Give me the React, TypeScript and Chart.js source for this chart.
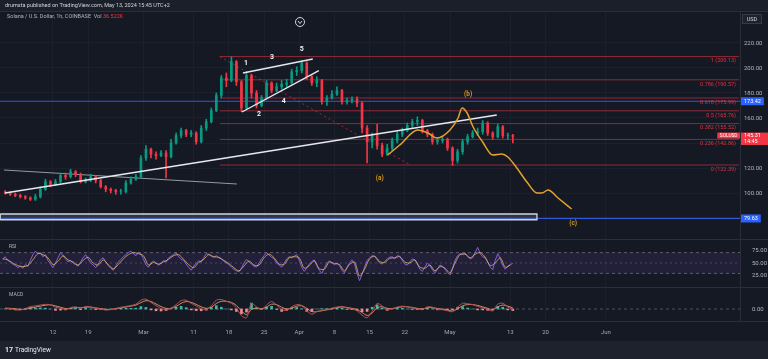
import React, { useEffect, useRef } from 'react';
import { Chart, registerables } from 'chart.js';

Chart.register(...registerables);

const FONT = 'Roboto, "Noto Sans", "DejaVu Sans", sans-serif';

// x axis = days since 2024-02-01 00:00 (UTC+2)
const timeTickDays = [11, 18, 29, 39, 46, 53, 60, 67, 74, 81, 90, 102, 109, 121];
const timeTickLabels = ['12', '19', 'Mar', '11', '18', '25', 'Apr', '8', '15', '22', 'May', '13', '20', 'Jun'];
const viewStartDay = 0.46;
const viewEndDay = 147.7;

// SOL/USD candles (one per day), first candle = day 1
const candleFirstDay = 1;
const opens = [
  101, 100, 99, 98, 97, 96, 95, 97, 103, 109,
  107, 109, 114, 113, 117, 115, 109, 110, 113, 110,
  105, 103, 102, 101, 101, 108, 111, 113, 128, 135,
  131, 130, 132, 129, 140, 146, 150, 147, 148, 141,
  152, 157, 166, 178, 192, 190, 205, 189, 168, 194,
  180, 170, 176, 188, 182, 185, 187, 188, 197, 198,
  204, 193, 188, 190, 173, 176, 179, 182, 173, 174,
  175, 172, 152, 141, 146, 138, 131, 136, 142, 147,
  150, 154, 157, 158, 150, 147, 141, 142, 143, 136,
  126, 133, 141, 145, 148, 149, 156, 148, 145, 153,
  146, 146,
];
const highs = [
  102, 101, 100, 99, 98, 97, 99, 105, 111, 110,
  111, 116, 116, 119, 118, 116, 112, 115, 114, 111,
  106, 104, 103, 103, 110, 113, 115, 130, 138, 136,
  133, 134, 134, 143, 148, 152, 151, 150, 149, 154,
  159, 168, 180, 194, 196, 209, 206, 190, 197, 195,
  182, 178, 190, 189, 188, 190, 191, 199, 201, 206,
  205, 194, 193, 191, 178, 182, 185, 183, 176, 177,
  177, 173, 154, 148, 155, 140, 139, 144, 149, 152,
  156, 159, 161, 159, 151, 148, 144, 145, 144, 137,
  135, 143, 147, 150, 152, 158, 157, 149, 155, 154,
  148, 147,
];
const lows = [
  99, 98, 97, 96, 95, 94, 94, 96, 102, 105,
  106, 108, 111, 112, 113, 108, 108, 109, 108, 104,
  101, 100, 99, 99, 100, 107, 110, 112, 126, 128,
  127, 129, 112, 128, 139, 144, 145, 145, 139, 140,
  150, 156, 165, 176, 185, 189, 186, 165, 167, 176,
  168, 169, 175, 180, 181, 183, 185, 187, 194, 196,
  191, 186, 185, 171, 170, 175, 178, 171, 171, 172,
  169, 148, 124, 136, 135, 129, 130, 134, 140, 145,
  149, 152, 154, 148, 145, 139, 139, 140, 134, 122,
  124, 131, 139, 144, 146, 147, 146, 143, 144, 144,
  143, 140,
];
const closes = [
  100, 99, 98, 97, 96, 95, 97, 103, 109, 107,
  109, 114, 113, 117, 115, 109, 110, 113, 110, 105,
  103, 102, 101, 101, 108, 111, 113, 128, 135, 131,
  130, 132, 129, 140, 146, 150, 147, 148, 141, 152,
  157, 166, 178, 192, 190, 205, 189, 168, 194, 180,
  170, 176, 188, 182, 185, 187, 188, 197, 198, 204,
  193, 188, 190, 173, 176, 179, 182, 173, 174, 175,
  172, 152, 141, 146, 138, 131, 136, 142, 147, 150,
  154, 157, 158, 150, 147, 141, 142, 143, 136, 126,
  133, 141, 145, 148, 149, 156, 148, 145, 153, 146,
  146, 145.31,
];

const priceTicks = [80, 100, 120, 140, 160, 180, 200, 220];

// Fibonacci retracement
const fibRatios = ['1', '0.786', '0.618', '0.5', '0.382', '0.236', '0'];
const fibPrices = [209.13, 190.57, 175.99, 165.76, 155.52, 142.86, 122.39];
const fibStartDay = 44.2;
const fibEndDay = 147.5;
const fibDiagDays = [44.2, 82.1];
const fibDiagPrices = [209.13, 122.39];

// horizontal levels (blue)
const horizLevels = [173.42, 79.63];
const lastPrice = 145.31;
const countdown = '14:45';

// drawings
const trendDays = [1.45, 99.3];
const trendPrices = [100.0, 162.4];
const greyLineDays = [1.25, 47.6];
const greyLinePrices = [118.4, 107.2];
const wedgeUpperDays = [48.8, 62.7];
const wedgeUpperPrices = [196.0, 207.2];
const wedgeLowerDays = [48.6, 63.9];
const wedgeLowerPrices = [164.8, 197.9];
const boxDays = [0.5, 107.3];
const boxPrices = [83.2, 78.6];
const projDays = [77.6, 80.0, 83.6, 85.6, 87.4, 90.0, 91.6, 92.4, 93.4, 94.6, 96.5, 98.5, 100.3, 101.5, 103.3, 105.3, 107.3, 108.3, 109.5, 111.5, 114.2];
const projPrices = [130.4, 138.4, 150.4, 148, 144, 150.4, 160, 168, 164, 152.8, 140.8, 130.4, 131.2, 128.8, 120, 108.8, 100, 100, 102.4, 96, 87.2];

const waveTexts = ['1', '2', '3', '4', '5'];
const waveDays = [49.4, 52.0, 54.6, 56.9, 60.5];
const wavePrices = [203.6, 163.2, 208.8, 173.6, 215.2];
const abcTexts = ['(a)', '(b)', '(c)'];
const abcDays = [76.0, 93.6, 114.5];
const abcPrices = [112, 179.2, 76];

// RSI (two readings per day from day 1)
const rsiFirstDay = 1;
const rsiStep = 0.5;
const rsiValues = [
  58, 62, 55, 52, 48, 45, 41, 44, 40, 47,
  44, 55, 66, 73, 68, 70, 62, 66, 55, 48,
  41, 50, 60, 70, 64, 58, 52, 55, 50, 47,
  44, 52, 60, 66, 58, 50, 46, 41, 48, 57,
  60, 52, 45, 40, 36, 44, 52, 57, 62, 66,
  70, 73, 68, 64, 71, 67, 58, 46, 42, 50,
  54, 50, 46, 49, 55, 52, 60, 63, 66, 70,
  62, 57, 55, 48, 42, 36, 44, 50, 54, 52,
  60, 68, 67, 63, 61, 64, 60, 58, 53, 50,
  47, 42, 38, 35, 33, 40, 50, 57, 52, 48,
  44, 42, 50, 58, 64, 70, 65, 61, 58, 50,
  46, 42, 50, 58, 62, 60, 63, 66, 55, 42,
  34, 40, 48, 53, 56, 45, 36, 30, 40, 50,
  54, 50, 47, 50, 45, 36, 31, 42, 50, 56,
  48, 30, 16, 28, 42, 55, 60, 64, 63, 56,
  50, 48, 53, 58, 61, 62, 58, 64, 63, 55,
  48, 46, 52, 58, 56, 48, 38, 34, 42, 50,
  45, 37, 31, 38, 46, 44, 38, 32, 27, 40,
  55, 64, 68, 66, 69, 63, 58, 60, 70, 80,
  68, 62, 60, 52, 42, 37, 55, 68, 58, 45,
  38, 44, 47, 49,
];
// RSI-based MA (one per day from day 1)
const rsiMaValues = [
  58, 56, 50, 45, 43, 45, 56, 68, 66, 60,
  47, 53, 64, 56, 52, 46, 55, 61, 50, 46,
  56, 47, 39, 47, 58, 66, 70, 68, 64, 46,
  51, 48, 52, 57, 64, 66, 57, 47, 41, 51,
  57, 66, 62, 61, 55, 49, 41, 35, 44, 54,
  46, 46, 60, 67, 60, 48, 47, 60, 62, 60,
  40, 45, 54, 39, 38, 52, 49, 47, 35, 47,
  52, 25, 38, 58, 63, 53, 51, 59, 60, 62,
  52, 50, 56, 42, 40, 46, 35, 43, 40, 31,
  50, 66, 67, 60, 67, 70, 61, 45, 50, 60,
  42, 46,
];
const rsiTicks = [25, 50, 75];
const rsiBand = [70, 50, 30];

// MACD (one per day from day 1)
const macdFirstDay = 1;
const macdValues = [
  0.4, 0.2, -0.3, -0.5, 0.2, 1.1, 1.4, 1.8, 2.1, 1.9,
  0.8, 0.3, -0.2, 0.6, 1.0, 0.3, 1.2, 0.9, 0.2, 0.0,
  -0.5, -0.2, 0.3, 0.8, 1.2, 1.6, 2.2, 4.0, 4.5, 3.0,
  1.5, 0.2, -0.4, 0.4, 2.0, 3.8, 4.0, 2.6, 1.4, 0.2,
  -0.2, 1.5, 4.0, 4.3, 3.5, 2.6, 0.5, -3.0, -4.0, 2.5,
  1.0, -0.2, 1.8, 3.4, 1.8, -0.3, -0.6, 1.0, 2.0, 1.6,
  -0.8, -2.4, -1.2, -0.6, -0.2, 0.4, 0.9, 1.2, 0.5, 0.0,
  -0.8, -2.8, -4.0, -1.0, 2.5, 1.4, -0.3, 0.2, 0.9, 1.3,
  1.0, 0.5, 0.1, -0.3, 1.0, 0.8, -0.2, -0.3, -0.8, -1.2,
  0.8, 2.6, 2.4, 2.0, 1.2, 0.6, -0.3, -0.8, 2.2, 2.6,
  0.9, -0.2,
];
const signalValues = [
  0.3, 0.3, 0.1, -0.2, -0.1, 0.4, 0.9, 1.3, 1.7, 1.9,
  1.4, 0.8, 0.2, 0.3, 0.7, 0.6, 0.8, 0.9, 0.5, 0.2,
  -0.2, -0.2, 0.1, 0.5, 0.9, 1.3, 1.8, 2.9, 3.8, 3.4,
  2.3, 1.1, 0.3, 0.3, 1.2, 2.6, 3.4, 3.0, 2.1, 1.0,
  0.3, 0.8, 2.5, 3.5, 3.5, 3.0, 1.6, -0.8, -2.6, -0.2,
  0.5, 0.1, 0.9, 2.2, 2.0, 0.8, 0.0, 0.4, 1.3, 1.5,
  0.3, -1.2, -1.2, -0.8, -0.4, 0.1, 0.6, 0.9, 0.7, 0.3,
  -0.3, -1.6, -2.9, -1.8, 0.6, 1.0, 0.3, 0.2, 0.6, 1.0,
  1.0, 0.7, 0.3, 0.0, 0.5, 0.7, 0.2, -0.1, -0.5, -0.9,
  0.0, 1.5, 2.0, 2.0, 1.6, 1.0, 0.3, -0.3, 1.0, 1.8,
  1.3, 0.5,
];
const histValues = [
  0.1, -0.1, -0.4, -0.3, 0.3, 0.7, 0.5, 0.5, 0.4, 0.0,
  -0.6, -0.5, -0.4, 0.3, 0.3, -0.3, 0.4, 0.0, -0.3, -0.2,
  -0.3, 0.0, 0.2, 0.3, 0.3, 0.3, 0.4, 1.1, 0.7, -0.4,
  -0.8, -0.9, -0.7, 0.1, 0.8, 1.2, 0.6, -0.4, -0.7, -0.8,
  -0.5, 0.7, 1.5, 0.8, 0.0, -0.4, -1.1, -2.2, -1.4, 2.7,
  0.5, -0.3, 0.9, 1.2, -0.2, -1.1, -0.6, 0.6, 0.7, 0.1,
  -1.1, -1.2, 0.0, 0.2, 0.2, 0.3, 0.3, 0.3, -0.2, -0.3,
  -0.5, -1.2, -1.1, 0.8, 1.9, 0.4, -0.6, 0.0, 0.3, 0.3,
  0.0, -0.2, -0.2, -0.3, 0.5, 0.1, -0.4, -0.2, -0.3, -0.3,
  0.8, 1.1, 0.4, 0.0, -0.4, -0.4, -0.6, -0.5, 1.2, 0.8,
  -0.4, -0.7,
];

const UP = '#089981';
const DOWN = '#f23645';

function pts(days: number[], vals: number[]) {
  return days.map((d, i) => ({ x: d, y: vals[i] }));
}
function lineDs(data: any[], color: string, width: number, axis: string, order: number, extra: any = {}) {
  return {
    type: 'line', data, yAxisID: axis, borderColor: color, borderWidth: width,
    pointRadius: 0, pointHoverRadius: 0, fill: false, tension: 0, order, ...extra,
  };
}

export default function App() {
  const ref = useRef<HTMLCanvasElement>(null);

  useEffect(() => {
    document.body.style.margin = '0';
    document.body.style.background = '#151924';
    const canvas = ref.current;
    if (!canvas) return;

    const candleColors = closes.map((c, i) => (c >= opens[i] ? UP : DOWN));
    const datasets: any[] = [];

    fibPrices.forEach((p) => {
      datasets.push(lineDs(pts([fibStartDay, fibEndDay], [p, p]), 'rgba(242,54,69,0.55)', 1, 'y', 20));
    });
    horizLevels.forEach((p) => {
      datasets.push(lineDs(pts([viewStartDay, viewEndDay], [p, p]), '#2f58d8', 1.2, 'y', 19));
    });
    datasets.push(lineDs(
      pts([boxDays[0], boxDays[1], boxDays[1], boxDays[0], boxDays[0]], [boxPrices[0], boxPrices[0], boxPrices[1], boxPrices[1], boxPrices[0]]),
      '#d1d4dc', 1.3, 'y', 18, { fill: 'shape', backgroundColor: 'rgba(120,123,134,0.28)' }));
    datasets.push(lineDs(pts(fibDiagDays, fibDiagPrices), 'rgba(242,54,69,0.6)', 1, 'y', 17, { borderDash: [2, 3] }));
    datasets.push(lineDs(pts(greyLineDays, greyLinePrices), '#9598a1', 1, 'y', 16));

    datasets.push({
      type: 'bar', yAxisID: 'y', order: 12, grouped: false, barThickness: 1,
      data: lows.map((l, i) => ({ x: candleFirstDay + i + 0.5, y: [l, highs[i]] })),
      backgroundColor: candleColors,
    });
    datasets.push({
      type: 'bar', yAxisID: 'y', order: 11, grouped: false, barThickness: 2,
      data: opens.map((o, i) => ({ x: candleFirstDay + i + 0.5, y: [o, closes[i]] })),
      backgroundColor: candleColors,
    });

    datasets.push(lineDs(pts(trendDays, trendPrices), '#e6e8ee', 1.6, 'y', 5));
    datasets.push(lineDs(pts(wedgeUpperDays, wedgeUpperPrices), '#e6e8ee', 1.4, 'y', 4));
    datasets.push(lineDs(pts(wedgeLowerDays, wedgeLowerPrices), '#e6e8ee', 1.4, 'y', 4));
    datasets.push(lineDs(pts(projDays, projPrices), '#e3a22c', 1.5, 'y', 3, { cubicInterpolationMode: 'monotone' }));

    // RSI pane
    datasets.push(lineDs(pts([viewStartDay, viewEndDay], [rsiBand[0], rsiBand[0]]), 'rgba(120,123,134,0.7)', 1, 'yRsi', 22,
      { borderDash: [3, 3], fill: { value: rsiBand[2] }, backgroundColor: 'rgba(126,87,194,0.13)' }));
    datasets.push(lineDs(pts([viewStartDay, viewEndDay], [rsiBand[1], rsiBand[1]]), 'rgba(120,123,134,0.45)', 1, 'yRsi', 21, { borderDash: [2, 3] }));
    datasets.push(lineDs(pts([viewStartDay, viewEndDay], [rsiBand[2], rsiBand[2]]), 'rgba(120,123,134,0.7)', 1, 'yRsi', 21, { borderDash: [3, 3] }));
    datasets.push(lineDs(rsiValues.map((v, i) => ({ x: rsiFirstDay + i * rsiStep, y: v })), '#8a5fd6', 1, 'yRsi', 8));
    datasets.push(lineDs(rsiMaValues.map((v, i) => ({ x: rsiFirstDay + i, y: v })), 'rgba(230,190,110,0.75)', 1, 'yRsi', 7, { tension: 0.3 }));

    // MACD pane
    datasets.push(lineDs(pts([viewStartDay, viewEndDay], [0, 0]), 'rgba(120,123,134,0.6)', 1, 'yMacd', 22, { borderDash: [3, 3] }));
    datasets.push({
      type: 'bar', yAxisID: 'yMacd', order: 15, grouped: false, barThickness: 2,
      data: histValues.map((v, i) => ({ x: macdFirstDay + i + 0.5, y: v })),
      backgroundColor: histValues.map((v) => (v >= 0 ? '#3fb8a8' : '#f08a95')),
    });
    datasets.push(lineDs(signalValues.map((v, i) => ({ x: macdFirstDay + i + 0.5, y: v })), '#d68a6a', 1, 'yMacd', 6, { tension: 0.3 }));
    datasets.push(lineDs(macdValues.map((v, i) => ({ x: macdFirstDay + i + 0.5, y: v })), '#b5524c', 1, 'yMacd', 5, { tension: 0.3 }));

    const f = (size: number, bold = false) => `${bold ? 'bold ' : ''}${size}px ${FONT}`;

    const overlay = {
      id: 'overlay',
      beforeDraw(chart: any) {
        const { ctx, width, height, chartArea, scales } = chart;
        ctx.save();
        ctx.fillStyle = '#151924';
        ctx.fillRect(0, 0, width, height);
        ctx.fillStyle = '#1b1f2a';
        ctx.fillRect(0, 0, width, chartArea.top);
        const stripTop = scales.x.top + 20;
        ctx.fillStyle = '#1e222d';
        ctx.fillRect(0, stripTop, width, height - stripTop);
        ctx.restore();
      },
      afterDraw(chart: any) {
        const { ctx, width, chartArea, scales } = chart;
        const xs = scales.x, ys = scales.y, yr = scales.yRsi, ym = scales.yMacd;
        ctx.save();
        // pane separators
        ctx.strokeStyle = '#2a2e39';
        ctx.lineWidth = 1;
        [chartArea.top, yr.top, ym.top, xs.top].forEach((y: number) => {
          ctx.beginPath();
          ctx.moveTo(0, Math.round(y) + 0.5);
          ctx.lineTo(width, Math.round(y) + 0.5);
          ctx.stroke();
        });

        // fib labels
        ctx.font = f(5.5);
        ctx.textAlign = 'right';
        ctx.textBaseline = 'middle';
        ctx.fillStyle = 'rgba(242,54,69,0.9)';
        const fx = xs.getPixelForValue(fibEndDay) - 3;
        fibPrices.forEach((p, i) => {
          ctx.fillText(`${fibRatios[i]} (${p.toFixed(2)})`, fx, ys.getPixelForValue(p) + 4.5);
        });

        // wave labels
        ctx.textAlign = 'center';
        ctx.font = f(7, true);
        ctx.fillStyle = '#f0f2f6';
        waveTexts.forEach((t, i) => ctx.fillText(t, xs.getPixelForValue(waveDays[i]), ys.getPixelForValue(wavePrices[i])));
        ctx.font = f(6.5, true);
        ctx.fillStyle = '#d9981f';
        abcTexts.forEach((t, i) => ctx.fillText(t, xs.getPixelForValue(abcDays[i]), ys.getPixelForValue(abcPrices[i])));

        // axis badges
        const axL = chartArea.right + 1;
        const badge = (text: string, yc: number, bg: string) => {
          ctx.font = f(5.5);
          const w = ctx.measureText(text).width + 6;
          ctx.fillStyle = bg;
          ctx.fillRect(axL, yc - 4, w, 8);
          ctx.fillStyle = '#ffffff';
          ctx.textAlign = 'left';
          ctx.fillText(text, axL + 3, yc + 0.3);
        };
        horizLevels.forEach((p) => badge(p.toFixed(2), ys.getPixelForValue(p), '#2962ff'));

        const yc = ys.getPixelForValue(lastPrice);
        ctx.fillStyle = DOWN;
        ctx.fillRect(axL, yc - 3.8, width - axL, 12.4);
        ctx.fillStyle = '#ffffff';
        ctx.textAlign = 'left';
        ctx.font = f(5.5);
        ctx.fillText(lastPrice.toFixed(2), axL + 3, yc - 0.3);
        ctx.fillText(countdown, axL + 3, yc + 5.6);
        ctx.font = f(4.8);
        const tag = 'SOLUSD';
        const tw = ctx.measureText(tag).width + 5;
        ctx.fillStyle = DOWN;
        ctx.fillRect(chartArea.right - tw, yc - 3.8, tw, 6);
        ctx.fillStyle = '#ffffff';
        ctx.fillText(tag, chartArea.right - tw + 2.5, yc - 0.7);

        // USD box
        ctx.fillStyle = '#1e222d';
        ctx.strokeStyle = '#363a45';
        ctx.fillRect(axL + 1.5, chartArea.top + 3.5, 19, 9);
        ctx.strokeRect(axL + 1.5, chartArea.top + 3.5, 19, 9);
        ctx.fillStyle = '#d1d4dc';
        ctx.textAlign = 'center';
        ctx.font = f(5.5);
        ctx.fillText('USD', axL + 11, chartArea.top + 8.2);

        // header texts
        ctx.textAlign = 'left';
        ctx.font = f(5.5);
        ctx.fillStyle = '#d1d4dc';
        ctx.fillText('drumsta published on TradingView.com, May 13, 2024 15:45 UTC+2', 5, chartArea.top / 2 + 0.5);
        ctx.fillStyle = '#b2b5be';
        const legend = 'Solana / U.S. Dollar, 1h, COINBASE  Vol ';
        ctx.fillText(legend, 7, chartArea.top + 5.5);
        const lw = ctx.measureText(legend).width;
        ctx.fillStyle = DOWN;
        ctx.fillText('36.522K', 7 + lw, chartArea.top + 5.5);

        // pane titles
        ctx.fillStyle = '#b2b5be';
        ctx.font = f(5);
        ctx.fillText('RSI', 9, yr.top + 8);
        ctx.fillText('MACD', 9, ym.top + 8);

        // collapse icon
        ctx.strokeStyle = '#d1d4dc';
        ctx.lineWidth = 1;
        ctx.beginPath();
        ctx.arc(300, chartArea.top + 11, 4.5, 0, Math.PI * 2);
        ctx.stroke();
        ctx.beginPath();
        ctx.moveTo(298, chartArea.top + 10);
        ctx.lineTo(300, chartArea.top + 12.5);
        ctx.lineTo(302, chartArea.top + 10);
        ctx.stroke();

        // footer logo
        const stripTop = xs.top + 20;
        const ly = stripTop + (chart.height - stripTop) / 2;
        ctx.fillStyle = '#e8eaf0';
        ctx.font = f(7, true);
        ctx.fillText('17', 5, ly);
        ctx.font = f(6.5);
        ctx.fillText('TradingView', 15, ly);
        ctx.restore();
      },
    };

    const tickFont = { size: 6, family: FONT };
    const chart = new Chart(canvas, {
      type: 'bar',
      data: { datasets },
      plugins: [overlay],
      options: {
        animation: false,
        responsive: false,
        events: [],
        layout: { padding: { top: 11, left: 0, right: 0, bottom: 0 } },
        plugins: { legend: { display: false }, tooltip: { enabled: false } },
        scales: {
          x: {
            type: 'linear', min: viewStartDay, max: viewEndDay, offset: false,
            grid: { color: '#1c202c', drawTicks: false, offset: false },
            border: { display: false },
            ticks: {
              autoSkip: false, maxRotation: 0, padding: 8, color: '#a3a6af', font: tickFont,
              callback: (v: any) => {
                const i = timeTickDays.indexOf(Number(v));
                return i >= 0 ? timeTickLabels[i] : '';
              },
            },
            afterBuildTicks: (s: any) => { s.ticks = timeTickDays.map((v) => ({ value: v })); },
            afterFit: (s: any) => { s.height = 38; },
          },
          y: {
            type: 'linear', position: 'right', stack: 'panes', stackWeight: 228,
            min: 63.2, max: 245.6,
            grid: { color: '#1c202c', drawTicks: false },
            border: { display: true, color: '#2a2e39' },
            ticks: { padding: 4, color: '#b2b5be', font: tickFont, callback: (v: any) => Number(v).toFixed(2) },
            afterBuildTicks: (s: any) => { s.ticks = priceTicks.map((v) => ({ value: v })); },
            afterFit: (s: any) => { s.width = 28; },
          },
          yRsi: {
            type: 'linear', position: 'right', stack: 'panes', stackWeight: 48,
            min: 3.8, max: 96.2,
            grid: { display: false },
            border: { display: true, color: '#2a2e39' },
            ticks: { padding: 4, color: '#b2b5be', font: tickFont, callback: (v: any) => Number(v).toFixed(2) },
            afterBuildTicks: (s: any) => { s.ticks = rsiTicks.map((v) => ({ value: v })); },
            afterFit: (s: any) => { s.width = 28; },
          },
          yMacd: {
            type: 'linear', position: 'right', stack: 'panes', stackWeight: 34,
            min: -5.45, max: 10,
            grid: { display: false },
            border: { display: true, color: '#2a2e39' },
            ticks: { padding: 4, color: '#b2b5be', font: tickFont, callback: (v: any) => Number(v).toFixed(2) },
            afterBuildTicks: (s: any) => { s.ticks = [{ value: 0 }]; },
            afterFit: (s: any) => { s.width = 28; },
          },
        },
      } as any,
    } as any);

    return () => chart.destroy();
  }, []);

  return (
    <div style={{ width: 768, height: 359, position: 'relative' }}>
      <canvas ref={ref} width={768} height={359} style={{ display: 'block', width: 768, height: 359 }} />
    </div>
  );
}
